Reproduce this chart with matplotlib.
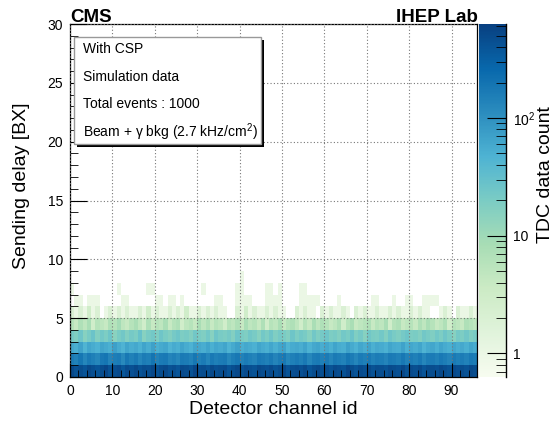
import matplotlib
matplotlib.use('Agg')
import matplotlib.pyplot as plt
import numpy as np
from matplotlib.colors import LogNorm
from matplotlib.patches import Rectangle
from matplotlib.ticker import MultipleLocator, FixedLocator, FixedFormatter, NullFormatter

plt.rcParams['font.family'] = ['Liberation Sans', 'DejaVu Sans']
plt.rcParams['mathtext.fontset'] = 'custom'
plt.rcParams['mathtext.rm'] = 'Liberation Sans'
plt.rcParams['mathtext.it'] = 'Liberation Sans:italic'
plt.rcParams['mathtext.bf'] = 'Liberation Sans:bold'

# TDC counts per channel, one list per sending-delay bin (BX)
bx0 = [520, 430, 480, 400, 510, 450, 390, 470, 540, 410, 460, 500,
       380, 490, 440, 520, 410, 470, 450, 530, 400, 480, 510, 430,
       460, 390, 500, 470, 420, 540, 450, 480, 410, 520, 440, 470,
       500, 390, 460, 530, 430, 490, 450, 410, 510, 470, 440, 500,
       420, 480, 530, 400, 460, 490, 440, 510, 390, 470, 520, 450,
       480, 410, 500, 460, 430, 540, 470, 400, 490, 450, 520, 430,
       480, 460, 410, 500, 470, 440, 530, 420, 490, 450, 510, 400,
       470, 480, 440, 520, 460, 410, 500, 450, 480, 430, 510, 470]
bx1 = [160, 140, 185, 130, 170, 150, 125, 175, 190, 135, 155, 165,
       120, 180, 145, 170, 130, 160, 150, 195, 140, 165, 175, 135,
       150, 125, 170, 160, 140, 185, 145, 165, 130, 175, 150, 160,
       170, 125, 155, 180, 140, 165, 150, 135, 175, 160, 145, 170,
       135, 160, 180, 130, 150, 165, 145, 175, 125, 160, 170, 150,
       165, 135, 170, 155, 140, 185, 160, 130, 165, 150, 175, 140,
       160, 155, 135, 170, 160, 145, 180, 140, 165, 150, 175, 130,
       160, 165, 145, 175, 155, 135, 170, 150, 160, 140, 175, 160]
bx2 = [60, 52, 68, 45, 62, 55, 48, 65, 58, 50, 72, 56,
       47, 64, 54, 60, 49, 66, 53, 70, 51, 58, 63, 46,
       57, 50, 67, 55, 48, 62, 59, 53, 66, 50, 61, 56,
       64, 47, 58, 69, 52, 60, 55, 49, 65, 57, 51, 62,
       50, 63, 68, 47, 56, 60, 54, 66, 48, 59, 64, 53,
       61, 50, 67, 55, 52, 70, 58, 48, 62, 54, 66, 51,
       59, 57, 49, 64, 56, 53, 68, 50, 61, 55, 65, 47,
       58, 62, 52, 66, 56, 50, 63, 54, 60, 51, 65, 57]
bx3 = [22, 18, 25, 16, 21, 27, 17, 23, 19, 26, 15, 20,
       24, 17, 22, 19, 28, 16, 21, 23, 18, 25, 20, 17,
       22, 26, 19, 21, 17, 24, 20, 18, 23, 16, 25, 21,
       19, 22, 17, 26, 20, 18, 24, 21, 16, 23, 19, 25,
       18, 22, 20, 17, 26, 19, 23, 21, 16, 24, 18, 22,
       25, 19, 21, 17, 23, 20, 27, 18, 22, 16, 24, 20,
       19, 23, 17, 25, 21, 18, 22, 26, 19, 20, 17, 24,
       21, 18, 23, 19, 25, 20, 16, 22, 19, 24, 18, 21]
bx4 = [6, 4, 7, 5, 8, 3, 6, 5, 4, 7, 6, 9,
       5, 4, 6, 8, 5, 3, 7, 4, 6, 5, 8, 4,
       6, 7, 3, 5, 6, 4, 8, 5, 7, 4, 6, 5,
       3, 6, 5, 7, 4, 8, 5, 6, 4, 7, 3, 6,
       5, 8, 4, 6, 7, 5, 3, 6, 4, 8, 5, 7,
       6, 4, 5, 7, 3, 6, 8, 4, 5, 6, 7, 4,
       6, 5, 8, 3, 6, 7, 4, 5, 6, 4, 7, 5,
       8, 6, 4, 5, 7, 3, 6, 5, 4, 7, 6, 5]
bx5 = [2, 1, 2, 1, 3, 1, 2, 0, 1, 2, 1, 2,
       1, 2, 1, 1, 2, 1, 3, 1, 2, 1, 1, 2,
       1, 2, 1, 3, 1, 1, 2, 1, 2, 1, 2, 1,
       1, 0, 0, 2, 1, 3, 1, 2, 1, 1, 2, 1,
       2, 1, 1, 0, 0, 2, 1, 2, 1, 1, 0, 2,
       1, 2, 1, 1, 2, 1, 0, 2, 1, 2, 1, 1,
       2, 1, 1, 2, 1, 2, 1, 1, 2, 1, 2, 1,
       1, 0, 0, 1, 2, 1, 0, 2, 1, 1, 2, 1]
bx6 = [0, 1, 1, 0, 1, 1, 1, 0, 0, 0, 0, 0,
       1, 1, 0, 0, 0, 0, 0, 0, 1, 1, 0, 1,
       1, 0, 1, 0, 0, 0, 0, 0, 0, 0, 1, 1,
       0, 0, 0, 1, 1, 1, 1, 0, 0, 0, 1, 1,
       1, 1, 0, 0, 0, 0, 1, 1, 1, 1, 1, 0,
       0, 0, 0, 1, 0, 0, 0, 0, 0, 0, 0, 1,
       1, 0, 0, 0, 1, 0, 0, 1, 1, 0, 0, 1,
       1, 1, 1, 0, 0, 0, 0, 0, 0, 0, 0, 0]
# channels with a single hit at 7 BX and 8 BX
bx7_channels = [0, 11, 18, 19, 31, 39, 40, 46, 47, 49, 54, 55]
bx8_channels = [40]

n_ch = 96
n_bx = 30
counts = np.zeros((n_bx, n_ch))
for i, row in enumerate([bx0, bx1, bx2, bx3, bx4, bx5, bx6]):
    counts[i] = row
counts[7, bx7_channels] = 1
counts[8, bx8_channels] = 1
counts = np.ma.masked_equal(counts, 0)

W, H = 555, 428
fig = plt.figure(figsize=(W / 100, H / 100), dpi=100)
ax = fig.add_axes([70 / W, 51 / H, 407 / W, 353 / H])

mesh = ax.pcolormesh(np.arange(n_ch + 1), np.arange(n_bx + 1), counts,
                     cmap='GnBu', norm=LogNorm(vmin=0.63, vmax=630),
                     edgecolors='none', antialiased=False)
ax.set_xlim(0, 96)
ax.set_ylim(0, 30)
ax.xaxis.set_major_locator(MultipleLocator(10))
ax.xaxis.set_minor_locator(MultipleLocator(2))
ax.yaxis.set_major_locator(MultipleLocator(5))
ax.yaxis.set_minor_locator(MultipleLocator(1))
ax.tick_params(which='both', direction='in', top=False, right=False,
               labelsize=10, color='black')
ax.tick_params(axis='x', which='major', length=10, pad=5)
ax.tick_params(axis='x', which='minor', length=5)
ax.tick_params(axis='y', which='major', length=12, pad=5)
ax.tick_params(axis='y', which='minor', length=6)
ax.grid(True, which='major', linestyle=(0, (1, 2)), color='#777777', lw=0.8)
ax.set_axisbelow(False)
for s in ax.spines.values():
    s.set_linewidth(0.9)

fig.text(273 / W, 1 - 410 / H, 'Detector channel id', ha='center', va='center', size=14)
fig.text(22 / W, 1 - 186 / H, 'Sending delay [BX]', ha='center', va='center',
         size=14, rotation=90)

# palette
cax = fig.add_axes([479 / W, 51 / H, 27 / W, 353 / H])
cb = fig.colorbar(mesh, cax=cax)
cb.outline.set_visible(False)
cax.yaxis.set_ticks_position('right')
cax.yaxis.set_major_locator(FixedLocator([1, 10, 100]))
cax.yaxis.set_major_formatter(FixedFormatter(['1', '10', '$10^{2}$']))
minors = [m * d for d in [0.1, 1, 10, 100] for m in range(2, 10)]
cax.yaxis.set_minor_locator(FixedLocator(minors))
cax.yaxis.set_minor_formatter(NullFormatter())
cax.tick_params(which='both', direction='in', labelsize=10, color='black')
cax.tick_params(which='major', length=14, pad=5)
cax.tick_params(which='minor', length=7)
cax.plot([1, 1], [0, 1], transform=cax.transAxes, color='black', lw=1, clip_on=False)
fig.text(545 / W, 1 - 175 / H, 'TDC data count', ha='center', va='center',
         size=14, rotation=90)

# info box with shadow
bx, by, bw, bh = 74, 37, 187, 107
fig.add_artist(Rectangle(((bx + 3) / W, 1 - (by + bh + 3) / H), bw / W, bh / H,
                         transform=fig.transFigure, facecolor='black', edgecolor='none'))
fig.add_artist(Rectangle((bx / W, 1 - (by + bh) / H), bw / W, bh / H,
                         transform=fig.transFigure, facecolor='white',
                         edgecolor='#999999', lw=1))
info = ['With CSP', 'Simulation data', 'Total events : 1000',
        r'Beam + γ bkg (2.7 kHz/cm$^{2}$)']
for txt, yy in zip(info, [49, 77, 104, 132]):
    fig.text(83 / W, 1 - yy / H, txt, ha='left', va='center', size=10)

fig.text(70 / W, 1 - 22 / H, 'CMS', ha='left', va='baseline', size=13.5, weight='bold')
fig.text(478 / W, 1 - 22 / H, 'IHEP Lab', ha='right', va='baseline', size=13.5, weight='bold')

fig.savefig('out.png', dpi=100)
